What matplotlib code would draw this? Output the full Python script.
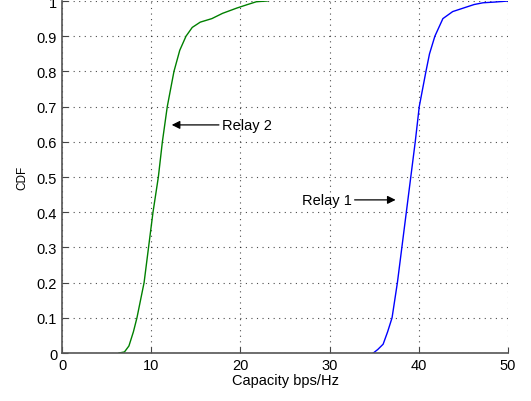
import numpy as np
import matplotlib.pyplot as plt

plt.rcParams['font.family'] = ['Liberation Sans', 'DejaVu Sans']

# CDF points
relay2_x = [6.4, 7.0, 7.5, 8.0, 8.4, 8.8, 9.2, 9.7, 10.2, 10.8, 11.25, 11.8, 12.55,
            13.2, 13.9, 14.6, 15.5, 16.8, 18.0, 19.6, 20.8, 21.8, 23.0]
relay2_y = [0.0, 0.003, 0.02, 0.06, 0.10, 0.15, 0.20, 0.30, 0.40, 0.50, 0.60, 0.70, 0.80,
            0.86, 0.90, 0.925, 0.94, 0.95, 0.965, 0.98, 0.99, 0.998, 1.0]

relay1_x = [34.9, 35.4, 36.0, 36.5, 37.0, 37.6, 38.1, 38.6, 39.1, 39.6, 40.05, 40.8,
            41.2, 41.8, 42.7, 43.8, 45.0, 46.2, 47.2, 48.5, 50.0]
relay1_y = [0.0, 0.01, 0.025, 0.06, 0.10, 0.20, 0.30, 0.40, 0.50, 0.60, 0.70, 0.80,
            0.85, 0.90, 0.95, 0.97, 0.98, 0.99, 0.995, 0.997, 1.0]

x_ticks = [0, 10, 20, 30, 40, 50]
y_ticks = np.round(np.arange(0, 1.01, 0.1), 1)
y_labels = ['0'] + [f'{v:g}' for v in y_ticks[1:]]

fig = plt.figure(figsize=(5.31, 4.02), dpi=100)
ax = fig.add_axes([0.1168, 0.1194, 0.8399, 0.8756])

ax.plot(relay2_x, relay2_y, color=(0, 0.5, 0), lw=1)
ax.plot(relay1_x, relay1_y, color=(0, 0, 1), lw=1)

ax.set_xlim(0, 50)
ax.set_ylim(0, 1)
ax.set_xticks(x_ticks)
ax.set_yticks(y_ticks)
ax.set_yticklabels(y_labels)
ax.grid(True, linestyle=(0, (1, 4)), color='black', lw=0.8, alpha=0.7)
ax.tick_params(direction='in', length=4, labelsize=10.5, color='#444444')
for side in ['top', 'right']:
    ax.spines[side].set_visible(False)
for side in ['left', 'bottom']:
    ax.spines[side].set_color('#555555')
    ax.spines[side].set_linewidth(1.2)

ax.set_xlabel('Capacity bps/Hz', fontsize=10.5, labelpad=1)
ax.set_ylabel('CDF', fontsize=8.5, labelpad=6)

ax.annotate('Relay 2', xy=(12.3, 0.648), xytext=(17.9, 0.648), va='center', ha='left',
            fontsize=10.5,
            arrowprops=dict(arrowstyle='-|>', color='black', lw=0.9, shrinkA=0, shrinkB=0,
                            mutation_scale=12))
ax.annotate('Relay 1', xy=(37.4, 0.435), xytext=(26.9, 0.435), va='center', ha='left',
            fontsize=10.5,
            arrowprops=dict(arrowstyle='-|>', color='black', lw=0.9, shrinkA=0, shrinkB=0,
                            mutation_scale=12))

plt.savefig('out.png')
